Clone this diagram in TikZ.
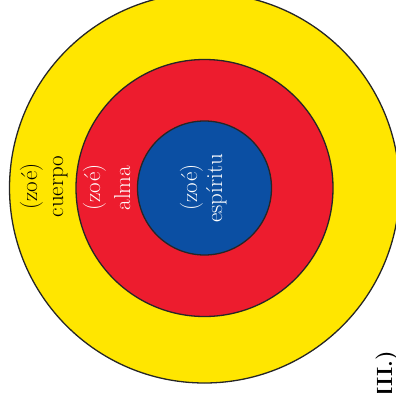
\documentclass[tikz,border=0pt]{standalone}
\usepackage{fontspec}
\definecolor{ringyellow}{HTML}{FFE600}
\definecolor{ringred}{HTML}{ED1C2E}
\definecolor{ringblue}{HTML}{0B4FA3}
\begin{document}
\begin{tikzpicture}[x=1pt,y=1pt,
  ring/.style={circle,draw=black!85,line width=1.3pt,inner sep=0pt},
  lab/.style={rotate=90,anchor=base,inner sep=0pt,font=\fontsize{23}{28}\selectfont},
  tag/.style={rotate=90,anchor=base east,inner sep=0pt,font=\bfseries\fontsize{22}{26}\selectfont}]
\useasboundingbox (0,0) rectangle (396,392);
\clip (0,0) rectangle (396,392);
\coordinate (c) at (204.5,204);
\node[ring,fill=ringyellow,minimum size=390pt] (outer) at (c) {};
\node[ring,fill=ringred,minimum size=257pt] (mid) at (c) {};
\node[ring,fill=ringblue,minimum size=134pt] (inner) at (c) {};
\node[lab] (z1) at (37,205.5) {(zoé)};
\node[lab] (c1) at (63,205.5) {cuerpo};
\node[lab,text=white] (z2) at (100,204.5) {(zoé)};
\node[lab,text=white] (a2) at (130,204) {alma};
\node[lab,text=white] (z3) at (197,204.5) {(zoé)};
\node[lab,text=white] (e3) at (222,203.5) {espíritu};
\node[tag] (t) at (392,41) {III.)};
\end{tikzpicture}
\end{document}
